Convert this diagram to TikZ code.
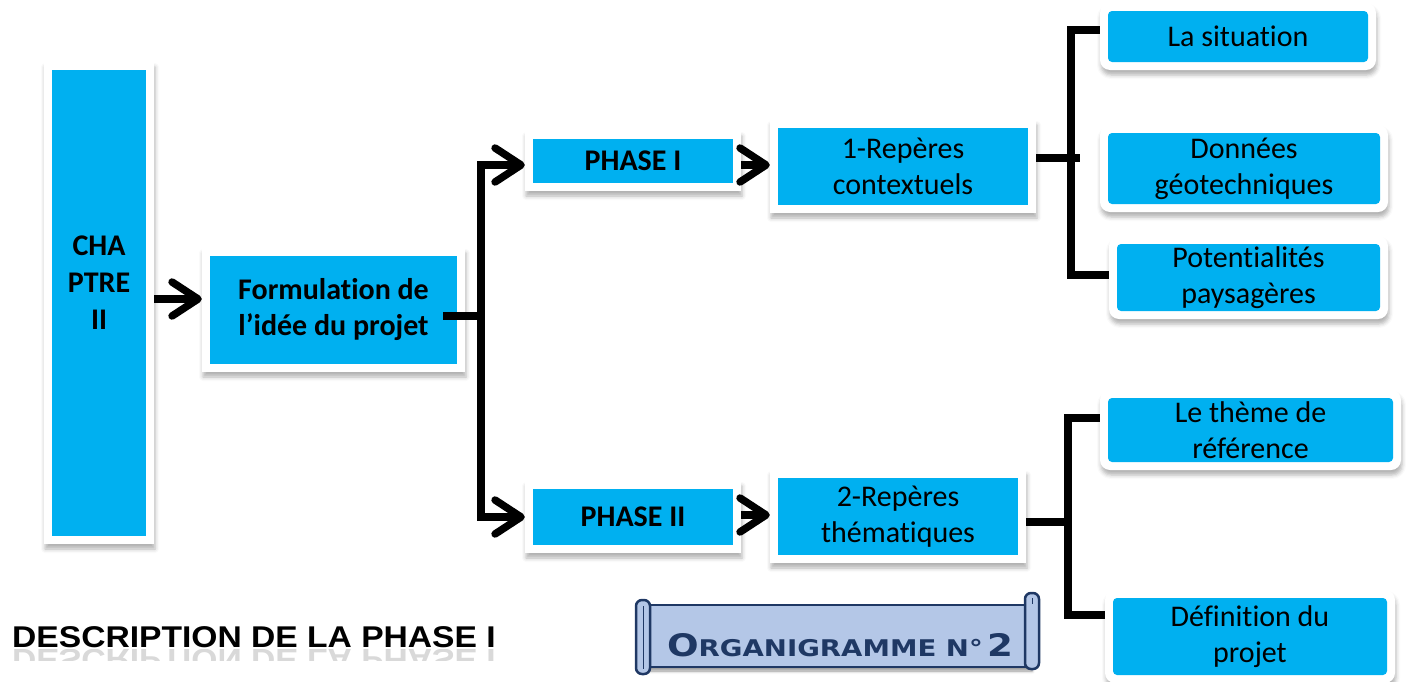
\documentclass[tikz,border=0pt]{standalone}
\usepackage{fontspec}
\setmainfont{Carlito}[Ligatures=NoCommon]
\newfontfamily\titrefont{Liberation Sans}
\newfontfamily\rouleaufont{DejaVu Sans}
\usetikzlibrary{arrows.meta,shadows.blur}
\definecolor{bleu}{HTML}{00B0F0}
\definecolor{parchemin}{HTML}{B4C7E7}
\definecolor{marine}{HTML}{1F3864}

\begin{document}
\begin{tikzpicture}[x=1pt, y=-1pt,
    cadre/.style={fill=white, inner sep=0pt, align=center,
                  font=\fontsize{30}{36}\selectfont,
                  blur shadow={shadow xshift=1pt, shadow yshift=-5pt, shadow blur radius=4pt, shadow opacity=30},
                  path picture={\fill[bleu] ([shift={(8pt,8pt)}]path picture bounding box.south west)
                                  rectangle ([shift={(-8pt,-8pt)}]path picture bounding box.north east);}},
    cadregras/.style={cadre, font=\fontsize{30}{36}\selectfont\bfseries},
    cadrerond/.style={cadre, rounded corners=10pt,
                  path picture={\fill[bleu, rounded corners=4pt] ([shift={(8pt,8pt)}]path picture bounding box.south west)
                                  rectangle ([shift={(-8pt,-8pt)}]path picture bounding box.north east);}},
    trait/.style={line width=7.5pt},
    fleche/.style={trait, -{Straight Barb[length=26pt, width=34pt, line width=0pt 1, round]}}]
        \useasboundingbox (0,0) rectangle (1406,681);
        % gauche
        \node[cadre, minimum width=110pt, minimum height=482pt] (chap) at (99,303) {};
        \node[font=\fontsize{30}{37}\selectfont\bfseries, align=center] (chaptxt) at (99,283) {CHA\\PTRE\\II};
        \node[cadregras, minimum width=263pt, minimum height=124pt] (form) at (333.5,310) {Formulation de\\l'idée du projet};
        % phases
        \node[cadregras, minimum width=216pt, minimum height=60pt] (ph1) at (633,161) {PHASE I};
        \node[cadregras, minimum width=216pt, minimum height=72pt] (ph2) at (633,517) {PHASE II};
        \node[cadre, minimum width=266pt, minimum height=93pt] (rep1) at (903,166.5) {1-Repères\\contextuels};
        \node[cadre, minimum width=256pt, minimum height=93pt] (rep2) at (898,516.5) {2-Repères\\thématiques};
        % droite
        \node[cadrerond, minimum width=276pt, minimum height=67pt] (sit) at (1238,36.5) {La situation};
        \node[cadrerond, minimum width=288pt, minimum height=87pt] (geo) at (1244,168.5) {Données\\géotechniques};
        \node[cadrerond, minimum width=279pt, minimum height=83pt] (pot) at (1248.5,277.5) {Potentialités\\paysagères};
        \node[cadrerond, minimum width=301pt, minimum height=80pt] (theme) at (1250.5,430) {Le thème de\\référence};
        \node[cadrerond, minimum width=290pt, minimum height=93pt] (def) at (1250,636.5) {Définition du\\projet};
        % liaisons
        \coordinate (bus) at (481,316);
        \coordinate (bus1) at (1071,158);
        \coordinate (bus2) at (1068,522);
        \draw[fleche] ([yshift=4pt]chap.east) -- ([yshift=4pt]chap.east -| form.west);
        \draw[trait] ([xshift=-22pt,yshift=-6pt]form.east) -- (bus);
        \draw[fleche] (bus) |- ([yshift=-4pt]ph1.west);
        \draw[fleche] (bus) |- (ph2.west);
        \draw[fleche] ([yshift=-4pt]ph1.east) -- ([yshift=-4pt]ph1.east -| rep1.west);
        \draw[fleche] ([yshift=2pt]ph2.east) -- ([yshift=2pt]ph2.east -| rep2.west);
        \draw[trait] ([yshift=8.5pt]rep1.east) -- ++(44,0);
        \draw[trait] ([yshift=6.5pt]sit.west) -| (bus1) |- ([yshift=2.5pt]pot.west);
        \draw[trait] ([yshift=-5.5pt]rep2.east) -- (bus2);
        \draw[trait] ([yshift=12pt]theme.west) -| (bus2) |- ([yshift=21.5pt]def.west);
        % rouleau
        \begin{scope}[draw=marine, line width=2.5pt, fill=parchemin]
            \filldraw[blur shadow={shadow xshift=2pt, shadow yshift=-4pt, shadow blur radius=3pt, shadow opacity=40}] (646,605) rectangle (1030,667);
            \filldraw[rounded corners=6pt] (636,600) rectangle (650,674);
            \draw[line width=1pt] (643,606) -- (643,669);
            \filldraw[rounded corners=6pt] (1025,593) rectangle (1039,669);
            \draw[line width=1pt] (1032,598) -- (1032,604);
        \end{scope}
        \node[text=marine, font=\rouleaufont\bfseries, anchor=base, inner sep=0pt, xscale=1.2] (orga) at (840,656)
            {{\fontsize{31}{31}\selectfont O}{\fontsize{23}{23}\selectfont RGANIGRAMME N°} {\fontsize{31}{31}\selectfont 2}};
        % titre
        \node[anchor=base west, inner sep=0pt, xscale=1.12, font=\titrefont\bfseries\fontsize{30}{30}\selectfont] (desc) at (12,647) {DESCRIPTION DE LA PHASE I};
        \begin{scope}
            \clip (0,649) rectangle (520,660);
            \node[anchor=base west, inner sep=0pt, xscale=1.12, yscale=-1, opacity=0.15, font=\titrefont\bfseries\fontsize{30}{30}\selectfont] (descreflet) at (12,649) {DESCRIPTION DE LA PHASE I};
        \end{scope}
\end{tikzpicture}
\end{document}
